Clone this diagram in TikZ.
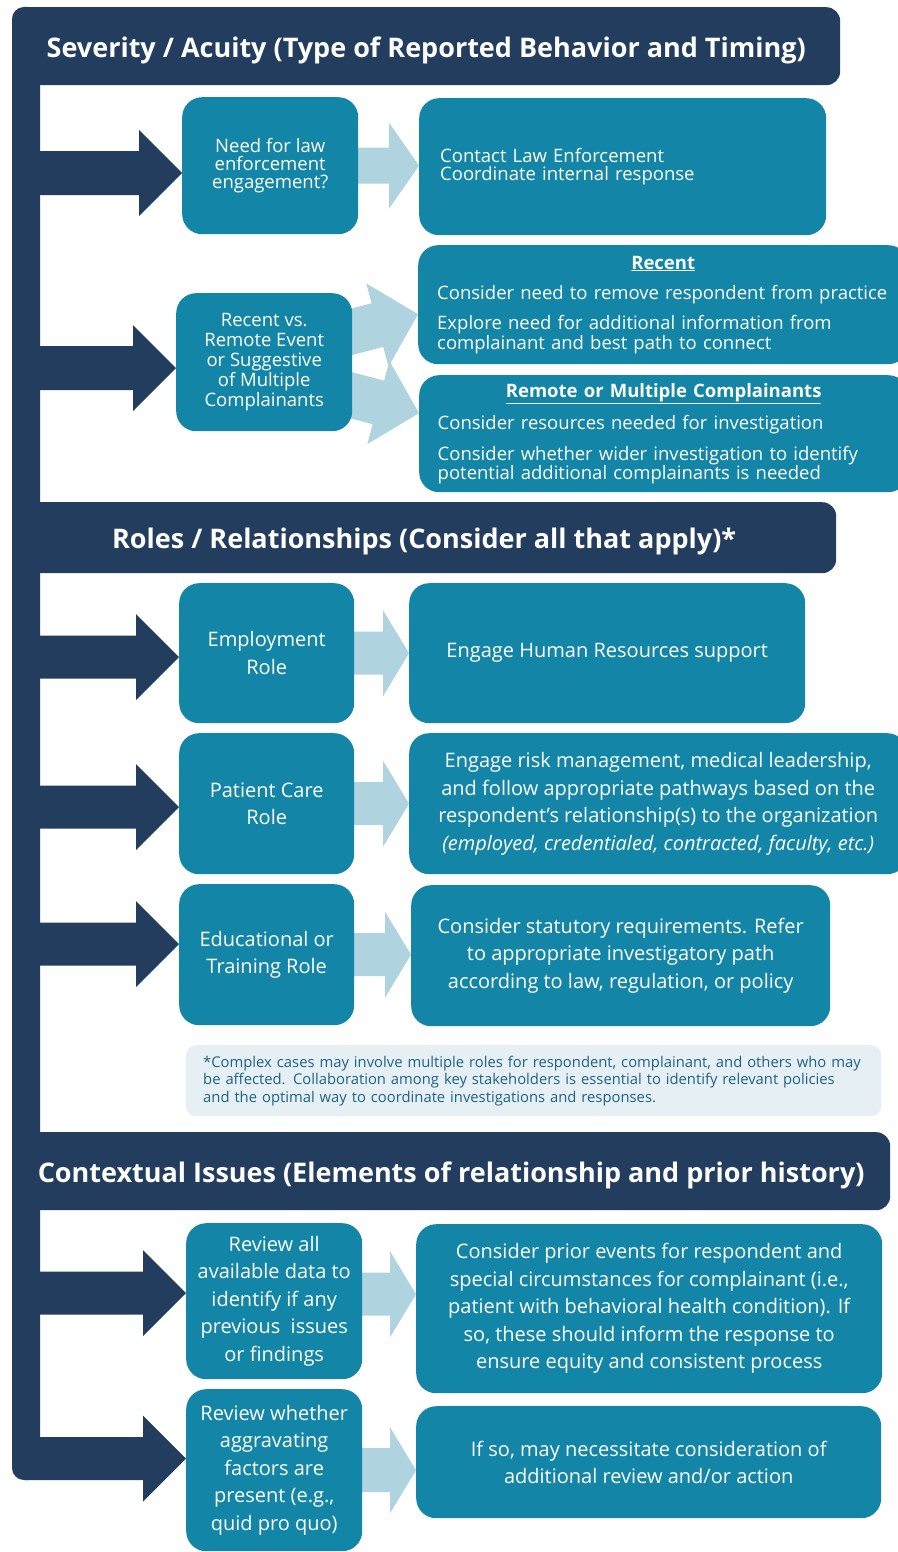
\documentclass[tikz,border=0pt]{standalone}
\usepackage{fontspec}
\setmainfont{Open Sans}
\usetikzlibrary{calc}

\definecolor{frameblue}{HTML}{233D5F}
\definecolor{boxblue}{HTML}{1386A8}
\definecolor{arrowblue}{HTML}{AFD3DF}
\definecolor{notefill}{HTML}{E6F0F4}
\definecolor{notetext}{HTML}{1D6384}

\pgfdeclarelayer{background}
\pgfsetlayers{background,main}

% block arrow: colour, from, to, shaft half width, head half width, head length
\newcommand{\fatarrow}[6]{%
	\fill[#1] let \p1=#2, \p2=#3, \n1={atan2(\y2-\y1,\x2-\x1)}, \n2={veclen(\x2-\x1,\y2-\y1)} in
		[shift={(\p1)}, rotate=\n1]
		(0,-#4) -- (\n2-#6,-#4) -- (\n2-#6,-#5) -- (\n2,0) -- (\n2-#6,#5) -- (\n2-#6,#4) -- (0,#4) -- cycle;}

\begin{document}
\begin{tikzpicture}[x=1pt, y=-1pt,
	headbar/.style={fill=frameblue, rounded corners=14, text=white, inner sep=0, anchor=north west,
		text height=24, text depth=2, font=\bfseries\fontsize{27}{30}\selectfont},
	leftbox/.style={fill=boxblue, rounded corners=20, text=white, inner sep=0, anchor=north west, align=center},
	notebox/.style={fill=notefill, rounded corners=10, text=notetext, inner sep=0, anchor=north west, align=left}]

	\useasboundingbox (0,0) rectangle (897,1552);

	% frame
	\fill[frameblue, rounded corners=12] (12,7) rectangle (40,1480);
	\node[headbar, minimum width=828, minimum height=78] (h1) at (12,7) {Severity / Acuity (Type of Reported Behavior and Timing)};
	\node[headbar, minimum width=824, minimum height=71] (h2) at (12,502) {Roles / Relationships (Consider all that apply)*};
	\node[headbar, minimum width=878, minimum height=78] (h3) at (12,1132) {Contextual Issues (Elements of relationship and prior history)};

	% severity
	\node[leftbox, minimum width=176, minimum height=137, font=\fontsize{18.5}{18}\selectfont] (a1) at (182,97) {Need for law\\enforcement\\engagement?};
	\node[leftbox, minimum width=407, minimum height=137, text width=365, align=left, font=\fontsize{18.5}{18}\selectfont] (r1) at (419,98) {Contact Law Enforcement\\Coordinate internal response};
	\node[leftbox, minimum width=176, minimum height=138, font=\fontsize{18.5}{20}\selectfont] (a2) at (176,293) {Recent vs.\\Remote Event\\or Suggestive\\of Multiple\\Complainants};
	\node[leftbox, minimum width=490, minimum height=119, text width=452, align=left, font=\fontsize{18.5}{17}\selectfont] (r2) at (418,245)
		{\makebox[\linewidth]{\bfseries\underline{Recent}}\\[13pt]
		Consider need to remove respondent from practice\\[11pt]
		Explore need for additional information from\\complainant and best path to connect};
	\node[leftbox, minimum width=489, minimum height=117, text width=452, align=left, font=\fontsize{18.5}{17}\selectfont] (r3) at (419,375)
		{\makebox[\linewidth]{\bfseries\underline{Remote or Multiple Complainants}}\\[11pt]
		Consider resources needed for investigation\\[11pt]
		Consider whether wider investigation to identify\\potential additional complainants is needed};

	% roles
	\node[leftbox, minimum width=175, minimum height=140, font=\fontsize{20}{27.5}\selectfont] (b1) at (179,583) {Employment\\Role};
	\node[leftbox, minimum width=175, minimum height=141, font=\fontsize{20}{27.5}\selectfont] (b2) at (179,733) {Patient Care\\Role};
	\node[leftbox, minimum width=175, minimum height=141, font=\fontsize{20}{27.5}\selectfont] (b3) at (179,884) {Educational or\\Training Role};
	\node[leftbox, minimum width=396, minimum height=140, font=\fontsize{20}{27.5}\selectfont] (s1) at (409,583) {Engage Human Resources support};
	\node[leftbox, minimum width=498, minimum height=141, font=\fontsize{20}{27.5}\selectfont] (s2) at (409,733)
		{Engage risk management, medical leadership,\\and follow appropriate pathways based on the\\respondent’s relationship(s) to the organization\\\textit{(employed, credentialed, contracted, faculty, etc.)}};
	\node[leftbox, minimum width=419, minimum height=141, font=\fontsize{20}{27.5}\selectfont] (s3) at (411,885)
		{Consider statutory requirements. Refer\\to appropriate investigatory path\\according to law, regulation, or policy};
	\node[notebox, minimum width=695, minimum height=71, text width=661, font=\fontsize{14.8}{17.5}\selectfont] (fn) at (186,1045)
		{*Complex cases may involve multiple roles for respondent, complainant, and others who may\\be affected. Collaboration among key stakeholders is essential to identify relevant policies\\and the optimal way to coordinate investigations and responses.};

	% context
	\node[leftbox, minimum width=176, minimum height=156, font=\fontsize{20}{27.5}\selectfont] (c1) at (186,1223) {Review all\\available data to\\identify if any\\previous~ issues\\or findings};
	\node[leftbox, minimum width=176, minimum height=162, font=\fontsize{20}{27.5}\selectfont] (c2) at (186,1389) {Review whether\\aggravating\\factors are\\present (e.g.,\\quid pro quo)};
	\node[leftbox, minimum width=466, minimum height=169, font=\fontsize{20}{27.5}\selectfont] (t1) at (416,1224)
		{Consider prior events for respondent and\\special circumstances for complainant (i.e.,\\patient with behavioral health condition). If\\so, these should inform the response to\\ensure equity and consistent process};
	\node[leftbox, minimum width=465, minimum height=112, font=\fontsize{20}{27.5}\selectfont] (t2) at (416,1406)
		{If so, may necessitate consideration of\\additional review and/or action};

	% dark arrows off the frame
	\coordinate (k1) at (26,173);
	\coordinate (k2) at (26,368);
	\coordinate (k3) at (26,657);
	\coordinate (k4) at (26,807);
	\coordinate (k5) at (26,944);
	\coordinate (k6) at (26,1293);
	\coordinate (k7) at (26,1458.5);
	\fatarrow{frameblue}{(k1)}{(k1 -| a1.west)}{22}{43}{43}
	\fatarrow{frameblue}{(k2)}{(k2 -| a2.west)}{22}{43}{43}
	\fatarrow{frameblue}{(k3)}{(k3 -| b1.west)}{21.5}{43}{43}
	\fatarrow{frameblue}{(k4)}{(k4 -| b2.west)}{21.5}{43}{43}
	\fatarrow{frameblue}{(k5)}{(k5 -| b3.west)}{21.5}{43}{43}
	\fatarrow{frameblue}{(k6)}{(k6 -| c1.west)}{21.5}{43}{43}
	\fatarrow{frameblue}{(k7)}{(k7 -| c2.west)}{21.5}{43}{43}

	% light arrows between the boxes, behind them
	\coordinate (a2u) at ([yshift=7pt]a2.center);
	\coordinate (a2d) at ([yshift=-10pt]a2.center);
	\coordinate (c1m) at ([yshift=7pt]c1.center);
	\begin{pgfonlayer}{background}
		\fill[white] (0,0) rectangle (897,1552);
		\fatarrow{arrowblue}{(a1.center)}{(a1.center -| r1.west)}{18}{43}{30}
		\fatarrow{arrowblue}{(a2u)}{([yshift=-9.5pt]r2.west)}{22.5}{43}{42}
		\fatarrow{arrowblue}{(a2d)}{([yshift=20.5pt]r3.west)}{22.5}{43}{42}
		\fatarrow{arrowblue}{(b1.center)}{(b1.center -| s1.west)}{21.5}{43}{26}
		\fatarrow{arrowblue}{(b2.center)}{(b2.center -| s2.west)}{21.5}{43}{26}
		\fatarrow{arrowblue}{(b3.center)}{(b3.center -| s3.west)}{21.5}{43}{26}
		\fatarrow{arrowblue}{(c1m)}{(c1m -| t1.west)}{21.5}{43}{26}
		\fatarrow{arrowblue}{(c2.center)}{(c2.center -| t2.west)}{22}{43}{26}
	\end{pgfonlayer}
\end{tikzpicture}
\end{document}
